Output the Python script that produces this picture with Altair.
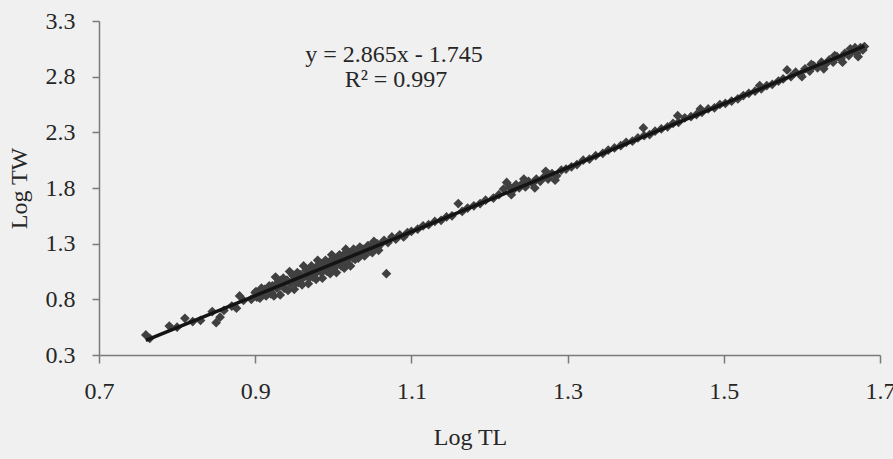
import altair as alt
import pandas as pd

# sparse lower end
x_a = [0.760, 0.765, 0.790, 0.800, 0.810, 0.820, 0.830, 0.845, 0.850, 0.855, 0.860, 0.870, 0.876, 0.880, 0.885, 0.895]
y_a = [0.48, 0.45, 0.56, 0.55, 0.63, 0.60, 0.61, 0.69, 0.59, 0.64, 0.70, 0.74, 0.72, 0.83, 0.79, 0.80]

# dense cluster 0.90 - 1.06 (outer points)
x_b = [
    0.900, 0.902, 0.904, 0.906, 0.908, 0.910, 0.912, 0.914, 0.916, 0.918,
    0.920, 0.922, 0.924, 0.926, 0.928, 0.930, 0.932, 0.934, 0.936, 0.938,
    0.940, 0.942, 0.944, 0.946, 0.948, 0.950, 0.952, 0.954, 0.956, 0.958,
    0.960, 0.962, 0.964, 0.966, 0.968, 0.970, 0.972, 0.974, 0.976, 0.978,
    0.980, 0.982, 0.984, 0.986, 0.988, 0.990, 0.992, 0.994, 0.996, 0.998,
    1.000, 1.002, 1.004, 1.006, 1.008, 1.010, 1.012, 1.014, 1.016, 1.018,
    1.020, 1.022, 1.024, 1.026, 1.028, 1.030, 1.032, 1.034, 1.036, 1.038,
    1.040, 1.042, 1.044, 1.046, 1.048, 1.050, 1.052, 1.054, 1.056, 1.058, 1.060,
]
y_b = [
    0.86, 0.82, 0.86, 0.81, 0.90, 0.86, 0.89, 0.83, 0.88, 0.92,
    0.85, 0.92, 0.83, 1.00, 0.90, 0.96, 0.84, 0.93, 0.99, 0.90,
    0.97, 0.88, 1.05, 0.95, 1.02, 0.89, 0.98, 1.04, 0.95, 1.02,
    0.93, 1.10, 1.01, 1.07, 0.94, 1.03, 1.10, 1.00, 1.07, 0.98,
    1.15, 1.06, 1.12, 0.99, 1.09, 1.15, 1.05, 1.13, 1.03, 1.20,
    1.11, 1.17, 1.04, 1.14, 1.20, 1.10, 1.18, 1.08, 1.25, 1.16,
    1.22, 1.10, 1.19, 1.25, 1.16, 1.22, 1.17, 1.27, 1.22, 1.25,
    1.19, 1.24, 1.28, 1.23, 1.27, 1.22, 1.32, 1.27, 1.30, 1.24, 1.29,
]

# dense cluster 0.90 - 1.06 (inner points)
x_b2 = [
    0.901, 0.905, 0.909, 0.913, 0.917, 0.921, 0.925, 0.929, 0.933, 0.937,
    0.941, 0.945, 0.949, 0.953, 0.957, 0.961, 0.965, 0.969, 0.973, 0.977,
    0.981, 0.985, 0.989, 0.993, 0.997, 1.001, 1.005, 1.009, 1.013, 1.017,
    1.021, 1.025, 1.029, 1.033, 1.037, 1.041, 1.045, 1.049, 1.053, 1.057,
]
y_b2 = [
    0.87, 0.82, 0.87, 0.86, 0.91, 0.86, 0.92, 0.91, 0.97, 0.90,
    0.97, 0.94, 1.01, 0.95, 1.02, 0.99, 1.06, 0.99, 1.06, 1.03,
    1.11, 1.04, 1.11, 1.08, 1.15, 1.08, 1.15, 1.13, 1.20, 1.13,
    1.20, 1.17, 1.23, 1.19, 1.24, 1.23, 1.28, 1.23, 1.28, 1.27,
]

# 1.06 - 1.20
x_c = [1.065, 1.070, 1.075, 1.080, 1.085, 1.090, 1.095, 1.100, 1.108, 1.115, 1.122, 1.130, 1.138, 1.145,
       1.152, 1.160, 1.165, 1.172, 1.180, 1.188, 1.195]
y_c = [1.33, 1.31, 1.36, 1.34, 1.38, 1.36, 1.40, 1.41, 1.43, 1.46, 1.47, 1.50, 1.51, 1.54,
       1.55, 1.66, 1.59, 1.62, 1.64, 1.66, 1.69]

# 1.20 - 1.36
x_d = [1.205, 1.212, 1.218, 1.222, 1.226, 1.228, 1.230, 1.234, 1.238, 1.242, 1.244, 1.246, 1.250, 1.255,
       1.258, 1.260, 1.265, 1.270, 1.272, 1.275, 1.280, 1.284, 1.286, 1.292, 1.298, 1.305, 1.312, 1.320,
       1.328, 1.336, 1.345, 1.352]
y_d = [1.71, 1.74, 1.79, 1.85, 1.81, 1.74, 1.78, 1.83, 1.80, 1.84, 1.88, 1.81, 1.86, 1.84,
       1.80, 1.88, 1.86, 1.90, 1.95, 1.88, 1.93, 1.87, 1.91, 1.96, 1.97, 1.99, 2.01, 2.05,
       2.06, 2.09, 2.11, 2.14]

# 1.36 - 1.55
x_e = [1.360, 1.368, 1.375, 1.383, 1.390, 1.397, 1.398, 1.405, 1.412, 1.420, 1.428, 1.435, 1.441, 1.442,
       1.450, 1.458, 1.465, 1.470, 1.472, 1.480, 1.488, 1.495, 1.502, 1.510, 1.518, 1.525, 1.532, 1.540,
       1.546, 1.548]
y_e = [2.16, 2.18, 2.21, 2.22, 2.25, 2.34, 2.27, 2.28, 2.31, 2.33, 2.35, 2.38, 2.45, 2.39,
       2.43, 2.44, 2.46, 2.51, 2.48, 2.51, 2.52, 2.55, 2.56, 2.58, 2.60, 2.63, 2.65, 2.67,
       2.72, 2.69]

# upper end 1.55 - 1.68
x_f = [1.555, 1.562, 1.570, 1.576, 1.581, 1.586, 1.592, 1.598, 1.600, 1.604, 1.610, 1.612, 1.615, 1.620,
       1.625, 1.628, 1.630, 1.635, 1.640, 1.642, 1.645, 1.650, 1.652, 1.655, 1.660, 1.662, 1.665, 1.668,
       1.670, 1.672, 1.675, 1.678, 1.680]
y_f = [2.72, 2.73, 2.76, 2.78, 2.86, 2.80, 2.84, 2.82, 2.80, 2.87, 2.85, 2.91, 2.90, 2.88,
       2.93, 2.87, 2.91, 2.95, 2.93, 2.99, 2.98, 2.96, 2.93, 3.01, 2.99, 3.05, 3.03, 3.06,
       3.01, 2.98, 3.06, 3.04, 3.07]

# outlier
x_out = [1.068]
y_out = [1.03]

x_ticks = [0.7, 0.9, 1.1, 1.3, 1.5, 1.7]
y_ticks = [0.3, 0.8, 1.3, 1.8, 2.3, 2.8, 3.3]
equation_lines = ["y = 2.865x - 1.745", "R\u00b2 = 0.997"]

df = pd.DataFrame({
    "x": x_a + x_b + x_b2 + x_c + x_d + x_e + x_f + x_out,
    "y": y_a + y_b + y_b2 + y_c + y_d + y_e + y_f + y_out,
})

FONT = "Liberation Serif"
TEXT_COLOR = "#262626"
AXIS_COLOR = "#7a7a7a"
FS = 24

x_enc = alt.X(
    "x:Q",
    scale=alt.Scale(domain=[0.7, 1.7], nice=False, zero=False),
    axis=alt.Axis(
        title="Log TL", values=x_ticks, format=".1f", grid=False, labelFlush=False,
        tickSize=8, labelPadding=16, titlePadding=22, titleX=371,
    ),
)
y_enc = alt.Y(
    "y:Q",
    scale=alt.Scale(domain=[0.3, 3.3], nice=False, zero=False),
    axis=alt.Axis(
        title="Log TW", values=y_ticks, format=".1f", grid=False, labelFlush=False,
        tickSize=7, labelPadding=17, titlePadding=14,
    ),
)

base = alt.Chart(df)

points = base.mark_point(
    shape="diamond", filled=True, size=95, color="#404040", opacity=1
).encode(x=x_enc, y=y_enc)

fit = base.transform_regression(
    "x", "y", extent=[0.76, 1.68]
).mark_line(color="#141414", strokeWidth=3.5).encode(x="x:Q", y="y:Q")

eq1 = alt.Chart(pd.DataFrame({"t": [equation_lines[0]]})).mark_text(
    font=FONT, fontSize=FS, color=TEXT_COLOR, align="center", baseline="middle"
).encode(x=alt.value(295), y=alt.value(34), text="t:N")

eq2 = alt.Chart(pd.DataFrame({"t": [equation_lines[1]]})).mark_text(
    font=FONT, fontSize=FS, color=TEXT_COLOR, align="center", baseline="middle"
).encode(x=alt.value(297), y=alt.value(59), text="t:N")

chart = alt.layer(points, fit, eq1, eq2).properties(
    width=781,
    height=334,
    autosize="none",
    padding={"left": 99, "top": 21, "right": 13, "bottom": 104},
    background="#f0f0f0",
).configure_view(stroke=None).configure_axis(
    labelFont=FONT, titleFont=FONT, labelFontSize=FS, titleFontSize=FS,
    labelColor=TEXT_COLOR, titleColor=TEXT_COLOR, titleFontWeight="normal",
    domainColor=AXIS_COLOR, tickColor=AXIS_COLOR, domainWidth=1.5, tickWidth=1.5,
)

chart.save("out.html", embed_options={"renderer": "svg", "actions": False})
